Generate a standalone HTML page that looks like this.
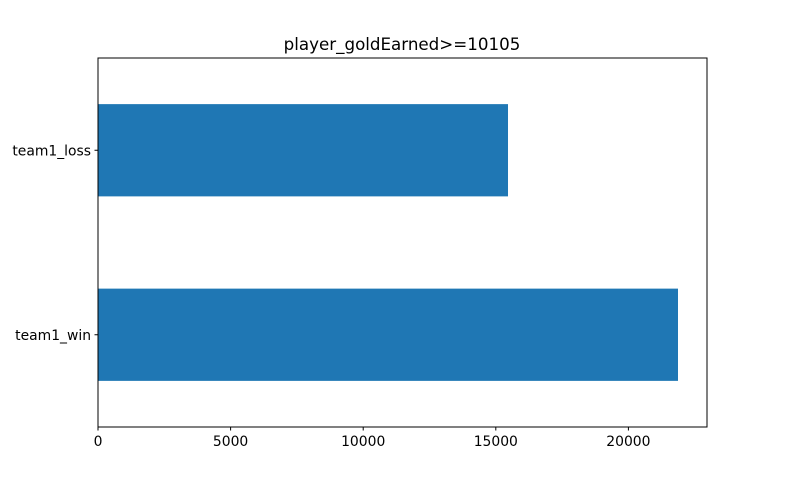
<!DOCTYPE html>
<html><head><meta charset="utf-8"><style>
body{margin:0;background:#fff;}
svg{display:block;font-family:"DejaVu Sans",sans-serif;}
</style></head><body>
<svg id="chart" width="785" height="480">
<rect width="785" height="480" fill="#fff"/>
<text x="402" y="50" text-anchor="middle" font-size="16.7">player_goldEarned&gt;=10105</text>
<g id="bars"></g>
<g id="xticks"></g>
<g id="yticks"></g>
<rect x="98" y="58" width="609" height="369" fill="none" stroke="#000" stroke-width="1"/>
</svg>
<script>
const categories = ["team1_win", "team1_loss"];
const values = [21870, 15460];
const tickValues = [0, 5000, 10000, 15000, 20000];
const tickLabels = ["0", "5000", "10000", "15000", "20000"];

const L = 98, R = 707, T = 58, B = 427;
const xMax = Math.max(...values) * 1.05;
const xs = v => L + v / xMax * (R - L);
const unit = (B - T) / categories.length;
const ys = i => B - (i + 0.5) * unit;
const NS = "http://www.w3.org/2000/svg";
const bars = document.getElementById("bars");
const xt = document.getElementById("xticks");
const yt = document.getElementById("yticks");

categories.forEach((c, i) => {
  const r = document.createElementNS(NS, "rect");
  r.setAttribute("x", xs(0));
  r.setAttribute("y", ys(i) - unit * 0.25);
  r.setAttribute("width", xs(values[i]) - xs(0));
  r.setAttribute("height", unit * 0.5);
  r.setAttribute("fill", "#1f77b4");
  
  
  bars.appendChild(r);
  const tk = document.createElementNS(NS, "line");
  tk.setAttribute("x1", L - 3.5); tk.setAttribute("x2", L);
  tk.setAttribute("y1", ys(i)); tk.setAttribute("y2", ys(i));
  tk.setAttribute("stroke", "#000");
  
  
  yt.appendChild(tk);
  const t = document.createElementNS(NS, "text");
  t.setAttribute("x", L - 7); t.setAttribute("y", ys(i) + 5);
  t.setAttribute("text-anchor", "end"); t.setAttribute("font-size", "13.9");
  t.textContent = c;
  
  
  yt.appendChild(t);
});
tickValues.forEach((v, i) => {
  const tk = document.createElementNS(NS, "line");
  tk.setAttribute("x1", xs(v)); tk.setAttribute("x2", xs(v));
  tk.setAttribute("y1", B); tk.setAttribute("y2", B + 3.5);
  tk.setAttribute("stroke", "#000");
  
  
  xt.appendChild(tk);
  const t = document.createElementNS(NS, "text");
  t.setAttribute("x", xs(v)); t.setAttribute("y", B + 19);
  t.setAttribute("text-anchor", "middle"); t.setAttribute("font-size", "13.9");
  t.textContent = tickLabels[i];
  
  
  xt.appendChild(t);
});
</script>
</body></html>
